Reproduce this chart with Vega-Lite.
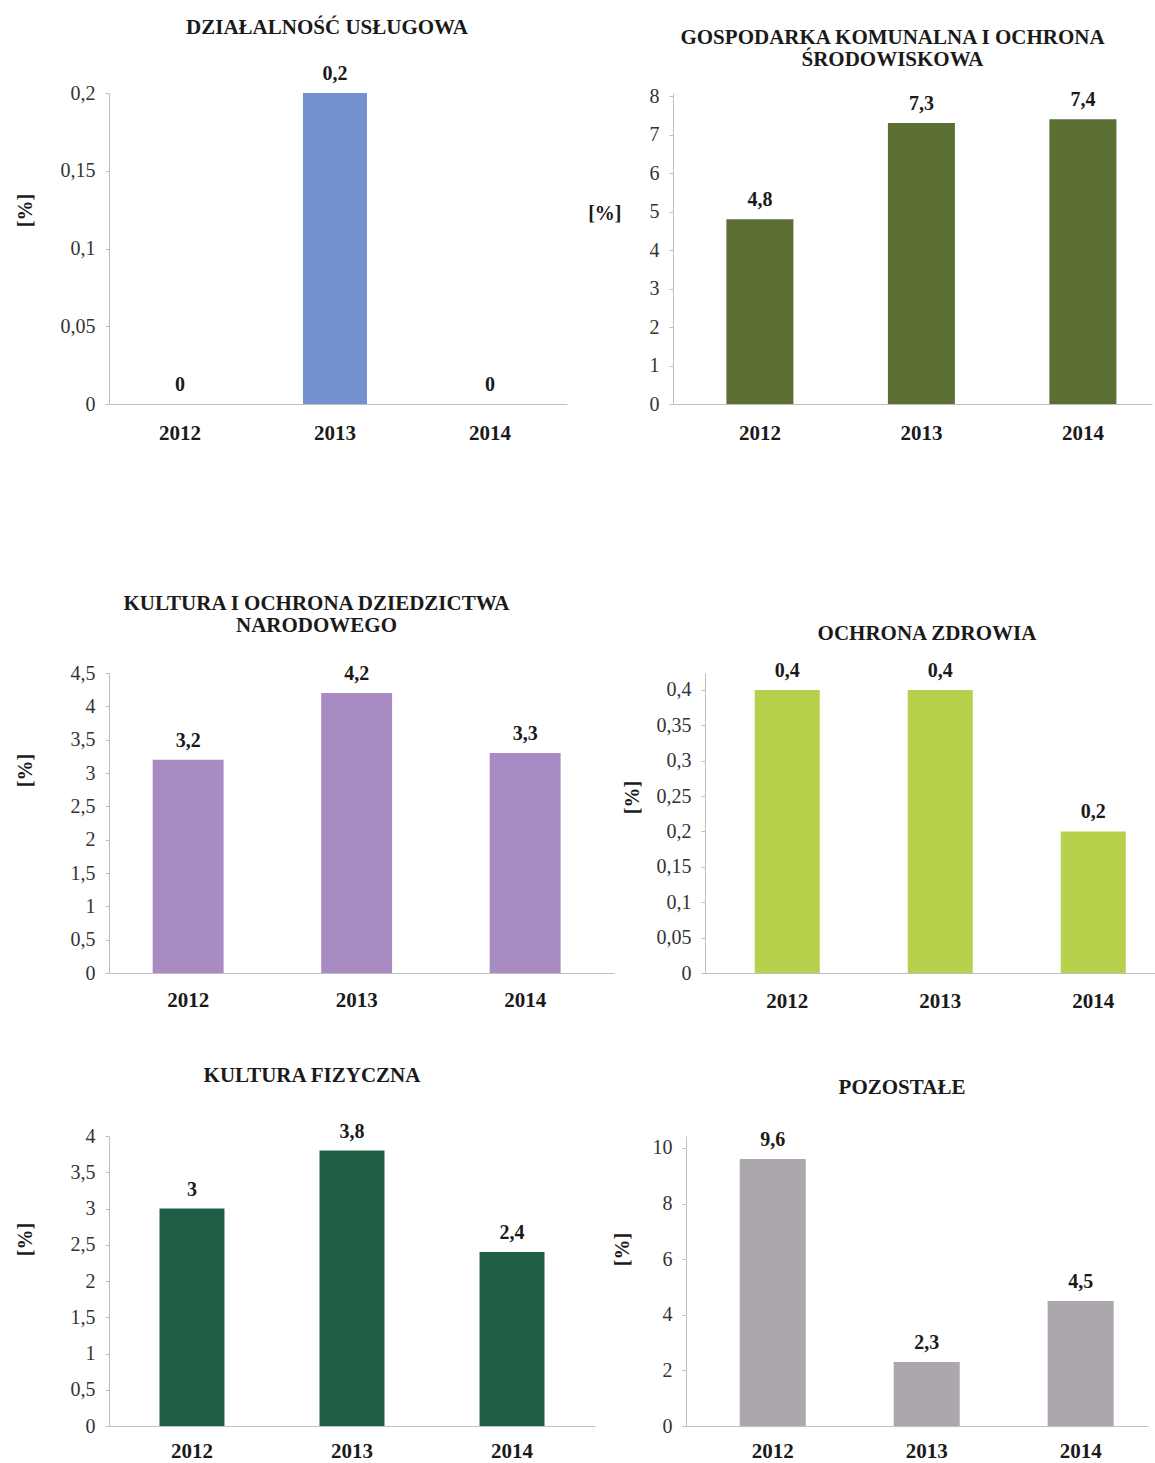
{
  "$schema": "https://vega.github.io/schema/vega-lite/v6.json",
  "padding": {"left": 15, "top": 17, "right": 0, "bottom": 0},
  "background": "white",
  "datasets": {
    "uslugowa": [{"rok": "2012", "wartosc": 0}, {"rok": "2013", "wartosc": 0.2}, {"rok": "2014", "wartosc": 0}],
    "komunalna": [{"rok": "2012", "wartosc": 4.8}, {"rok": "2013", "wartosc": 7.3}, {"rok": "2014", "wartosc": 7.4}],
    "kultura": [{"rok": "2012", "wartosc": 3.2}, {"rok": "2013", "wartosc": 4.2}, {"rok": "2014", "wartosc": 3.3}],
    "zdrowie": [{"rok": "2012", "wartosc": 0.4}, {"rok": "2013", "wartosc": 0.4}, {"rok": "2014", "wartosc": 0.2}],
    "fizyczna": [{"rok": "2012", "wartosc": 3}, {"rok": "2013", "wartosc": 3.8}, {"rok": "2014", "wartosc": 2.4}],
    "pozostale": [{"rok": "2012", "wartosc": 9.6}, {"rok": "2013", "wartosc": 2.3}, {"rok": "2014", "wartosc": 4.5}]
  },
  "spacing": 53,
  "vconcat": [
    {
      "spacing": 20,
      "hconcat": [
        {
          "title": {"text": "DZIAŁALNOŚĆ USŁUGOWA", "offset": 26, "dx": -11},
          "width": 458, "height": 311,
          "data": {"name": "uslugowa"},
          "encoding": {
            "x": {"field": "rok", "type": "ordinal", "scale": {"paddingInner": 0.587, "paddingOuter": 0.271, "align": 0.464},
                  "axis": {"labelPadding": 18, "title": ".", "titleColor": "white", "titleFontSize": 10, "titlePadding": 87}},
            "y": {"field": "wartosc", "type": "quantitative", "scale": {"domain": [0, 0.2], "nice": false},
                  "axis": {"values": [0, 0.05, 0.1, 0.15, 0.2], "format": ".2~f", "title": "[%]", "titlePadding": 25, "titleY": 117}}
          },
          "layer": [
            {"mark": {"type": "bar", "color": "#7391cf"}},
            {"mark": {"type": "text", "baseline": "bottom", "dy": -9, "fontWeight": "bold", "fontSize": 20, "color": "#1a1a1a"},
             "encoding": {"text": {"field": "wartosc", "type": "quantitative", "format": ".1~f"}}}
          ]
        },
        {
          "title": {"text": ["GOSPODARKA KOMUNALNA I OCHRONA", "ŚRODOWISKOWA"], "offset": 16, "dx": -20},
          "width": 479, "height": 311,
          "data": {"name": "komunalna"},
          "encoding": {
            "x": {"field": "rok", "type": "ordinal", "scale": {"paddingInner": 0.585, "paddingOuter": 0.2755, "align": 0.6},
                  "axis": {"labelPadding": 18, "title": null}},
            "y": {"field": "wartosc", "type": "quantitative", "scale": {"domain": [0, 8.08], "nice": false},
                  "axis": {"values": [0, 1, 2, 3, 4, 5, 6, 7, 8], "format": ".2~f", "title": "[%]", "titleAngle": 0, "titleAlign": "right", "titleBaseline": "middle", "titleX": -52, "titleY": 120}}
          },
          "layer": [
            {"mark": {"type": "bar", "color": "#5b6f34"}},
            {"mark": {"type": "text", "baseline": "bottom", "dy": -9, "fontWeight": "bold", "fontSize": 20, "color": "#1a1a1a"},
             "encoding": {"text": {"field": "wartosc", "type": "quantitative", "format": ".1~f"}}}
          ]
        }
      ]
    },
    {
      "spacing": 8,
      "hconcat": [
        {
          "title": {"text": ["KULTURA I OCHRONA DZIEDZICTWA", "NARODOWEGO"], "offset": 27, "dx": -45},
          "width": 505, "height": 300,
          "data": {"name": "kultura"},
          "encoding": {
            "x": {"field": "rok", "type": "ordinal", "scale": {"paddingInner": 0.579, "paddingOuter": 0.288, "align": 0.45},
                  "axis": {"labelPadding": 16, "title": null}},
            "y": {"field": "wartosc", "type": "quantitative", "scale": {"domain": [0, 4.5], "nice": false},
                  "axis": {"values": [0, 0.5, 1, 1.5, 2, 2.5, 3, 3.5, 4, 4.5], "format": ".2~f", "title": "[%]", "titlePadding": 35, "titleY": 97}}
          },
          "layer": [
            {"mark": {"type": "bar", "color": "#a88bc2"}},
            {"mark": {"type": "text", "baseline": "bottom", "dy": -9, "fontWeight": "bold", "fontSize": 20, "color": "#1a1a1a"},
             "encoding": {"text": {"field": "wartosc", "type": "quantitative", "format": ".1~f"}}}
          ]
        },
        {
          "title": {"text": "OCHRONA ZDROWIA", "offset": 17, "dx": -3},
          "width": 450, "height": 300,
          "data": {"name": "zdrowie"},
          "encoding": {
            "x": {"field": "rok", "type": "ordinal", "scale": {"paddingInner": 0.575, "paddingOuter": 0.258, "align": 0.63},
                  "axis": {"labelPadding": 17, "title": null}},
            "y": {"field": "wartosc", "type": "quantitative", "scale": {"domain": [0, 0.424], "nice": false},
                  "axis": {"values": [0, 0.05, 0.1, 0.15, 0.2, 0.25, 0.3, 0.35, 0.4], "format": ".2~f", "title": "[%]", "titlePadding": 14, "titleY": 124}}
          },
          "layer": [
            {"mark": {"type": "bar", "color": "#b8d14d"}},
            {"mark": {"type": "text", "baseline": "bottom", "dy": -9, "fontWeight": "bold", "fontSize": 20, "color": "#1a1a1a"},
             "encoding": {"text": {"field": "wartosc", "type": "quantitative", "format": ".1~f"}}}
          ]
        }
      ]
    },
    {
      "spacing": 17,
      "hconcat": [
        {
          "title": {"text": "KULTURA FIZYCZNA", "offset": 36, "dx": -40},
          "width": 486, "height": 290,
          "data": {"name": "fizyczna"},
          "encoding": {
            "x": {"field": "rok", "type": "ordinal", "scale": {"paddingInner": 0.594, "paddingOuter": 0.3156, "align": 0.5},
                  "axis": {"labelPadding": 14, "title": null}},
            "y": {"field": "wartosc", "type": "quantitative", "scale": {"domain": [0, 4], "nice": false},
                  "axis": {"values": [0, 0.5, 1, 1.5, 2, 2.5, 3, 3.5, 4], "format": ".2~f", "title": "[%]", "titlePadding": 35, "titleY": 103}}
          },
          "layer": [
            {"mark": {"type": "bar", "color": "#1e5e44"}},
            {"mark": {"type": "text", "baseline": "bottom", "dy": -9, "fontWeight": "bold", "fontSize": 20, "color": "#1a1a1a"},
             "encoding": {"text": {"field": "wartosc", "type": "quantitative", "format": ".1~f"}}}
          ]
        },
        {
          "title": {"text": "POZOSTAŁE", "offset": 32, "dx": -15},
          "width": 462, "height": 290,
          "data": {"name": "pozostale"},
          "encoding": {
            "x": {"field": "rok", "type": "ordinal", "scale": {"paddingInner": 0.571, "paddingOuter": 0.286, "align": 0.61},
                  "axis": {"labelPadding": 14, "title": null}},
            "y": {"field": "wartosc", "type": "quantitative", "scale": {"domain": [0, 10.43], "nice": false},
                  "axis": {"values": [0, 2, 4, 6, 8, 10], "format": ".2~f", "title": "[%]", "titlePadding": 20, "titleY": 113}}
          },
          "layer": [
            {"mark": {"type": "bar", "color": "#aba7ad"}},
            {"mark": {"type": "text", "baseline": "bottom", "dy": -9, "fontWeight": "bold", "fontSize": 20, "color": "#1a1a1a"},
             "encoding": {"text": {"field": "wartosc", "type": "quantitative", "format": ".1~f"}}}
          ]
        }
      ]
    }
  ],
  "config": {
    "font": "Liberation Serif",
    "view": {"stroke": null},
    "locale": {"number": {"decimal": ",", "thousands": " ", "grouping": [3], "currency": ["", ""]}},
    "axis": {"labelFont": "Liberation Serif", "titleFont": "Liberation Serif", "domainColor": "#bfbfbf", "grid": false},
    "axisX": {"labelFontSize": 21, "labelFontWeight": "bold", "labelColor": "#1a1a1a", "ticks": false, "labelAngle": 0},
    "axisY": {"labelFontSize": 20, "labelColor": "#333333", "tickSize": 4, "tickColor": "#bfbfbf", "labelPadding": 10, "titleFontSize": 20, "titleFontWeight": "bold", "titleColor": "#1a1a1a"},
    "title": {"font": "Liberation Serif", "fontSize": 21, "fontWeight": "bold", "color": "#1a1a1a", "anchor": "middle", "lineHeight": 22}
  }
}
